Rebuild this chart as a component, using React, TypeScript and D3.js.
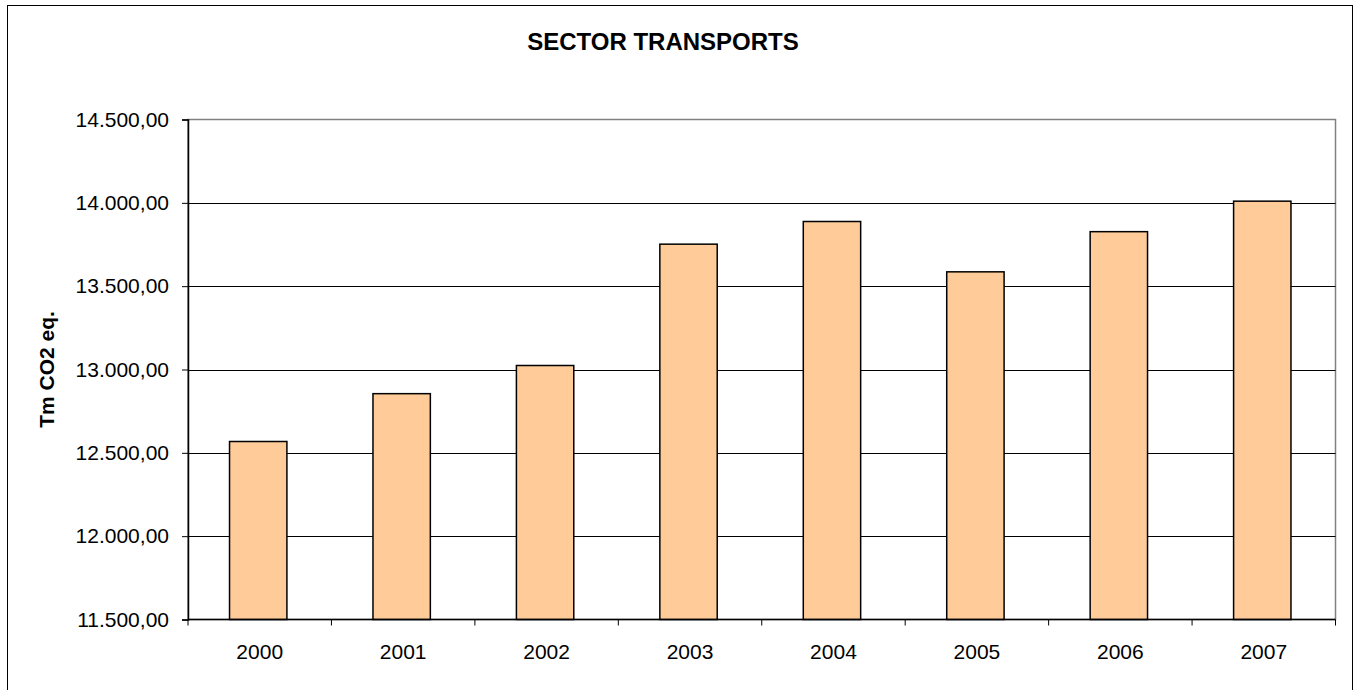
import React, { useEffect, useRef } from 'react';
import * as d3 from 'd3';

const years = ['2000', '2001', '2002', '2003', '2004', '2005', '2006', '2007'];
const emissions = [12568, 12855, 13024, 13752, 13888, 13586, 13827, 14010];
const yTicks = [11500, 12000, 12500, 13000, 13500, 14000, 14500];

const W = 1359;
const H = 690;
const FONT = '"Liberation Sans", Arial, sans-serif';

const fmt = (v: number) => {
  // 14500 -> "14.500,00"
  const s = Math.round(v).toString();
  const withDots = s.replace(/\B(?=(\d{3})+(?!\d))/g, '.');
  return `${withDots},00`;
};

const App: React.FC = () => {
  const svgRef = useRef<SVGSVGElement>(null);

  useEffect(() => {
    if (!svgRef.current) return;
    const svg = d3.select(svgRef.current);
    svg.selectAll('*').remove();

    const plot = { left: 188, right: 1335.5, top: 119.5, bottom: 619.5 };

    const x = d3.scaleBand<string>()
      .domain(years)
      .range([plot.left, plot.right])
      .paddingInner(0.6)
      .paddingOuter(0.3);

    const xCat = d3.scaleBand<string>()
      .domain(years)
      .range([plot.left, plot.right]);

    const y = d3.scaleLinear().domain([11500, 14500]).range([plot.bottom, plot.top]);

    // Outer frame
    svg.append('rect')
      .attr('x', 7.5)
      .attr('y', 5.5)
      .attr('width', 1345)
      .attr('height', 700)
      .attr('fill', 'white')
      .attr('stroke', '#000')
      .attr('stroke-width', 1);

    // Title
    svg.append('text')
      .attr('x', 663)
      .attr('y', 50)
      .attr('text-anchor', 'middle')
      .style('font-family', FONT)
      .style('font-size', '24px')
      .style('font-weight', 'bold')
      .text('SECTOR TRANSPORTS');

    // Plot border (top + right gray)
    svg.append('rect')
      .attr('x', plot.left)
      .attr('y', plot.top)
      .attr('width', plot.right - plot.left)
      .attr('height', plot.bottom - plot.top)
      .attr('fill', 'none')
      .attr('stroke', '#808080')
      .attr('stroke-width', 1.5);

    // Gridlines
    svg.append('g')
      .selectAll('line')
      .data(yTicks.slice(1, -1))
      .join('line')
      .attr('x1', plot.left)
      .attr('x2', plot.right)
      .attr('y1', (d) => Math.round(y(d)) + 0.5)
      .attr('y2', (d) => Math.round(y(d)) + 0.5)
      .attr('stroke', '#000')
      .attr('stroke-width', 1);

    // Bars
    svg.append('g')
      .selectAll('rect')
      .data(years)
      .join('rect')
      .attr('x', (d) => x(d)! - 1.5)
      .attr('y', (d, i) => y(emissions[i]))
      .attr('width', x.bandwidth())
      .attr('height', (d, i) => plot.bottom - y(emissions[i]))
      .attr('fill', '#FFCC99')
      .attr('stroke', '#000')
      .attr('stroke-width', 1.5);

    // Y axis
    const yAxis = svg.append('g')
      .attr('transform', `translate(${plot.left},0)`)
      .call(d3.axisLeft(y).tickValues(yTicks).tickSize(6).tickPadding(13).tickFormat((d) => fmt(+d)));
    yAxis.select('.domain').attr('stroke', '#000').attr('stroke-width', 1.5);
    yAxis.selectAll('.tick line').attr('stroke', '#000');
    yAxis.selectAll('text')
      .style('font-family', FONT)
      .style('font-size', '21px')
      .attr('fill', '#000');

    // X axis (ticks at category boundaries)
    const xAxisG = svg.append('g').attr('transform', `translate(0,${plot.bottom})`);
    xAxisG.append('line')
      .attr('x1', plot.left)
      .attr('x2', plot.right)
      .attr('stroke', '#000')
      .attr('stroke-width', 1.5);
    const bounds = years.map((d) => xCat(d)!).concat([plot.right]);
    xAxisG.selectAll('line.tk')
      .data(bounds)
      .join('line')
      .attr('class', 'tk')
      .attr('x1', (d) => d)
      .attr('x2', (d) => d)
      .attr('y1', 0)
      .attr('y2', 6)
      .attr('stroke', '#000');
    xAxisG.selectAll('text')
      .data(years)
      .join('text')
      .attr('x', (d) => xCat(d)! + xCat.bandwidth() / 2)
      .attr('y', 39)
      .attr('text-anchor', 'middle')
      .style('font-family', FONT)
      .style('font-size', '21px')
      .text((d) => d);

    // Y axis title
    svg.append('text')
      .attr('transform', `translate(54,${(plot.top + plot.bottom) / 2}) rotate(-90)`)
      .attr('text-anchor', 'middle')
      .style('font-family', FONT)
      .style('font-size', '21px')
      .style('font-weight', 'bold')
      .text('Tm CO2 eq.');
  }, []);

  return (
    <svg
      ref={svgRef}
      width={W}
      height={H}
      style={{ position: 'absolute', left: 0, top: 0, background: '#fff' }}
    />
  );
};

export default App;
